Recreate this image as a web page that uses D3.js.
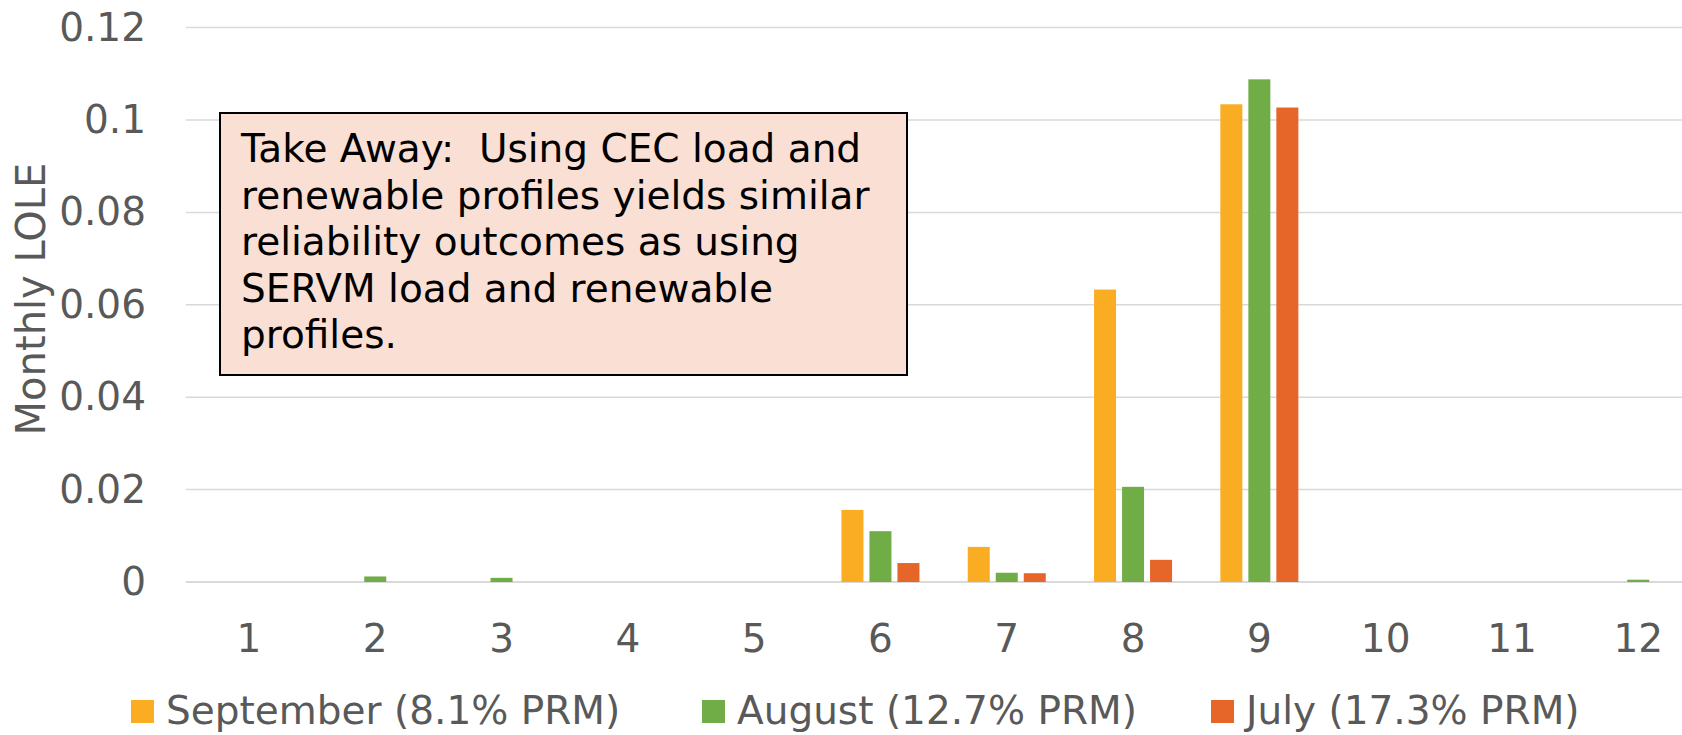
<!DOCTYPE html>
<html>
<head>
<meta charset="utf-8">
<script src="https://cdn.jsdelivr.net/npm/d3@7"></script>
<style>
  body { margin: 0; background: #fff; }
  svg { display: block; font-family: "DejaVu Sans", sans-serif; }
</style>
</head>
<body>
<svg id="chart" width="1682" height="735"></svg>
<script>
var months = ["1", "2", "3", "4", "5", "6", "7", "8", "9", "10", "11", "12"];
var seriesNames = ["September (8.1% PRM)", "August (12.7% PRM)", "July (17.3% PRM)"];
var september = [0, 0, 0, 0, 0, 0.0156, 0.0076, 0.0633, 0.1034, 0, 0, 0];
var august = [0, 0.0012, 0.0009, 0, 0, 0.011, 0.002, 0.0206, 0.1088, 0, 0, 0.0005];
var july = [0, 0, 0, 0, 0, 0.0041, 0.0019, 0.0048, 0.1027, 0, 0, 0];
var yTicks = [0, 0.02, 0.04, 0.06, 0.08, 0.1, 0.12];
var colors = ["#FAAD22", "#70AD47", "#E66528"];
var noteLines = [
  "Take Away:  Using CEC load and",
  "renewable profiles yields similar",
  "reliability outcomes as using",
  "SERVM load and renewable",
  "profiles."
];

var width = 1682,
  height = 735;
var plotLeft = 185.8,
  plotRight = 1701.4,
  plotTop = 27.6,
  plotBottom = 582;
var gray = "#595959";

var chart = d3.select("#chart");

var x = d3.scaleBand().domain(months).range([plotLeft, plotRight]).padding(0);
var groupW = 78;
var xSub = d3
  .scaleBand()
  .domain(d3.range(seriesNames.length))
  .range([0, groupW])
  .paddingInner(6 / 28);
var y = d3.scaleLinear().domain([0, 0.12]).range([plotBottom, plotTop]);

// gridlines
chart
  .append("g")
  .selectAll("line")
  .data(yTicks)
  .enter()
  .append("line")
  .attr("x1", plotLeft)
  .attr("x2", width)
  .attr("y1", function (d) {
    return y(d);
  })
  .attr("y2", function (d) {
    return y(d);
  })
  .attr("stroke", "#d9d9d9")
  .attr("stroke-width", function (d) {
    return d === 0 ? 2 : 1.5;
  });

// y axis labels
var yAxis = chart
  .append("g")
  .attr("transform", "translate(146,0)")
  .call(
    d3
      .axisLeft(y)
      .tickValues(yTicks)
      .tickSize(0)
      .tickPadding(0)
      .tickFormat(function (d) {
        return String(+d.toFixed(2));
      })
  );
yAxis.select(".domain").remove();
yAxis
  .selectAll("text")
  .attr("font-family", "DejaVu Sans, sans-serif")
  .attr("font-size", 39)
  .attr("fill", gray);

// x axis labels
var xAxis = chart
  .append("g")
  .attr("transform", "translate(0," + plotBottom + ")")
  .call(d3.axisBottom(x).tickSize(0).tickPadding(0));
xAxis.select(".domain").remove();
xAxis
  .selectAll("text")
  .attr("font-family", "DejaVu Sans, sans-serif")
  .attr("font-size", 39)
  .attr("fill", gray)
  .attr("dy", null)
  .attr("y", 70);

// bars
var allSeries = [september, august, july];
allSeries.forEach(function (vals, s) {
  chart
    .append("g")
    .selectAll("rect")
    .data(vals)
    .enter()
    .append("rect")
    .attr("x", function (d, i) {
      return x(months[i]) + (x.bandwidth() - groupW) / 2 + xSub(s);
    })
    .attr("y", function (d) {
      return y(d);
    })
    .attr("width", xSub.bandwidth())
    .attr("height", function (d) {
      return plotBottom - y(d);
    })
    .attr("fill", colors[s]);
});

// y axis title
chart
  .append("text")
  .text("Monthly LOLE")
  .attr("transform", "translate(45,299) rotate(-90)")
  .attr("text-anchor", "middle")
  .attr("font-size", 40)
  .attr("fill", gray);

// take away box
chart
  .append("rect")
  .attr("x", 220)
  .attr("y", 113)
  .attr("width", 687)
  .attr("height", 262)
  .attr("fill", "#F9DFD4")
  .attr("stroke", "#000")
  .attr("stroke-width", 2);

chart
  .append("g")
  .selectAll("text")
  .data(noteLines)
  .enter()
  .append("text")
  .text(function (d) {
    return d;
  })
  .attr("x", 241)
  .attr("y", function (d, i) {
    return 162 + i * 46.5;
  })
  .attr("font-size", 39)
  .attr("fill", "#000")
  .style("white-space", "pre");

// legend
var legendX = [131, 702, 1211];
var legend = chart
  .append("g")
  .selectAll("g")
  .data(seriesNames)
  .enter()
  .append("g")
  .attr("transform", function (d, i) {
    return "translate(" + legendX[i] + ",700)";
  });
legend
  .append("rect")
  .attr("width", 23)
  .attr("height", 23)
  .attr("fill", function (d, i) {
    return colors[i];
  });
legend
  .append("text")
  .text(function (d) {
    return d;
  })
  .attr("x", 35)
  .attr("y", 24)
  .attr("font-size", 39)
  .attr("fill", gray);
</script>
</body>
</html>
